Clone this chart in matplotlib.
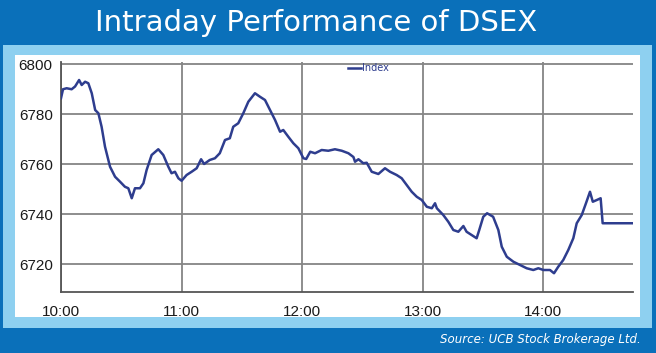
import matplotlib
matplotlib.use("Agg")
import matplotlib.pyplot as plt
from matplotlib.patches import Rectangle

# ---- data (minutes after 10:00, DSEX index) ----
minutes = [0, 1, 2.8, 5.3, 7, 9, 10.3, 12, 13.6, 15.3, 17, 18.6, 20.2, 21.9, 24.4,
           26.9, 29.4, 31.8, 33.5, 35.2, 36.8, 39.3, 41, 42.6, 45.1, 48.4, 50.9,
           53.4, 55, 56.7, 58.4, 60, 62.5, 65, 67.5, 69.7, 71.2, 74, 76.6, 79,
           81.6, 84, 85.7, 88.2, 90.7, 93.2, 96.5, 99, 101.5, 104, 106.5, 109,
           110.6, 113.1, 115.6, 118.1, 120.6, 122, 124, 126.4, 129.7, 133, 136.3,
           139.7, 143, 145.5, 146.3, 148, 150.4, 152.1, 154.6, 157.9, 161.2,
           163.7, 167, 169.5, 172, 174.5, 177, 179.5, 182, 184.5, 186.1, 187,
           190.2, 192.7, 195.2, 197.7, 200.2, 201.8, 204.3, 206.8, 208.1, 210.1,
           212, 215, 217.6, 219.3, 221.8, 225.1, 228.4, 231.7, 235, 237.5, 240,
           243.3, 245.3, 247.4, 249.9, 252.4, 254.9, 256.6, 259.1, 261.2, 263.2,
           264.6, 266.6, 268.5, 269.5, 284.5]
index_values = [6786.3, 6789.9, 6790.3, 6789.9, 6791.0, 6793.6, 6791.6, 6792.9,
                6792.3, 6788.3, 6781.6, 6780.3, 6774.9, 6766.9, 6758.9, 6754.9,
                6752.9, 6750.9, 6750.3, 6746.3, 6750.3, 6750.3, 6752.3, 6757.6,
                6763.6, 6765.9, 6763.6, 6758.9, 6756.3, 6756.9, 6754.3, 6753.3,
                6755.6, 6756.9, 6758.3, 6761.9, 6760.0, 6761.6, 6762.3, 6764.3,
                6769.6, 6770.3, 6774.9, 6776.3, 6780.3, 6784.9, 6788.3, 6786.9,
                6785.6, 6781.6, 6777.6, 6772.9, 6773.6, 6770.9, 6768.3, 6766.3,
                6762.3, 6762.0, 6764.9, 6764.3, 6765.6, 6765.3, 6765.9, 6765.3,
                6764.3, 6762.8, 6760.9, 6761.9, 6760.3, 6760.5, 6756.9, 6756.0,
                6758.3, 6756.9, 6755.6, 6754.3, 6751.6, 6748.9, 6746.9, 6745.6,
                6742.9, 6742.3, 6744.3, 6742.3, 6739.6, 6736.9, 6733.6, 6732.9,
                6735.2, 6732.9, 6731.6, 6730.3, 6733.6, 6738.9, 6740.3, 6738.9,
                6733.6, 6726.9, 6722.9, 6720.9, 6719.6, 6718.3, 6717.6, 6718.3,
                6717.6, 6717.6, 6716.3, 6718.9, 6721.6, 6725.6, 6730.3, 6736.3,
                6739.6, 6744.3, 6748.9, 6744.9, 6745.6, 6746.3, 6736.3, 6736.3]
x_ticks = [0, 60, 120, 180, 240]
x_tick_labels = ["10:00", "11:00", "12:00", "13:00", "14:00"]
y_ticks = [6720, 6740, 6760, 6780, 6800]
series_name = "Index"
title = "Intraday Performance of DSEX"
source = "Source: UCB Stock Brokerage Ltd."

W, H = 656, 353
fig = plt.figure(figsize=(W / 100, H / 100), dpi=100)
fig.patch.set_facecolor("#0a70ba")

def px_rect(x0, y0, x1, y1, color, z=-5):
    fig.patches.append(Rectangle((x0 / W, 1 - y1 / H), (x1 - x0) / W, (y1 - y0) / H,
                                 transform=fig.transFigure, facecolor=color,
                                 edgecolor="none", zorder=z))

px_rect(3, 45, 652, 328, "#8ed0f0")
px_rect(15, 55, 640, 317, "#ffffff")

fig.text(316 / W, 1 - 23 / H, title, color="white", fontsize=21,
         family="DejaVu Sans", ha="center", va="center")
fig.text(641 / W, 1 - 340 / H, source, color="white", fontsize=8.5,
         family="DejaVu Sans", style="italic", ha="right", va="center")

ax = fig.add_axes([61 / W, 1 - 292 / H, (633 - 61) / W, (292 - 62) / H])
ax.set_facecolor("none")
ax.plot(minutes, index_values, color="#2e3d8e", lw=1.8, label=series_name, zorder=3)
ax.set_xlim(0, 284.6)
ax.set_ylim(6708.8, 6800.8)
ax.set_xticks(x_ticks)
ax.set_xticklabels(x_tick_labels)
ax.set_yticks(y_ticks)
ax.grid(True, color="#858585", lw=1.3)
ax.set_axisbelow(True)
for s in ["top", "right"]:
    ax.spines[s].set_visible(False)
for s in ["left", "bottom"]:
    ax.spines[s].set_color("#555555")
    ax.spines[s].set_linewidth(1.3)
ax.tick_params(axis="both", length=0, labelsize=11, labelcolor="#1a1a1a")
ax.tick_params(axis="x", pad=9)
ax.tick_params(axis="y", pad=6)
for lab in ax.get_xticklabels() + ax.get_yticklabels():
    lab.set_family("Liberation Sans")
ax.legend(loc="upper left", bbox_to_anchor=((343 - 61) / (633 - 61), 1.015), frameon=False,
          fontsize=7, handlelength=1.3, handletextpad=0.2, borderpad=0,
          labelcolor="#2e3d8e")

fig.savefig("out.png", dpi=100, facecolor=fig.get_facecolor())
